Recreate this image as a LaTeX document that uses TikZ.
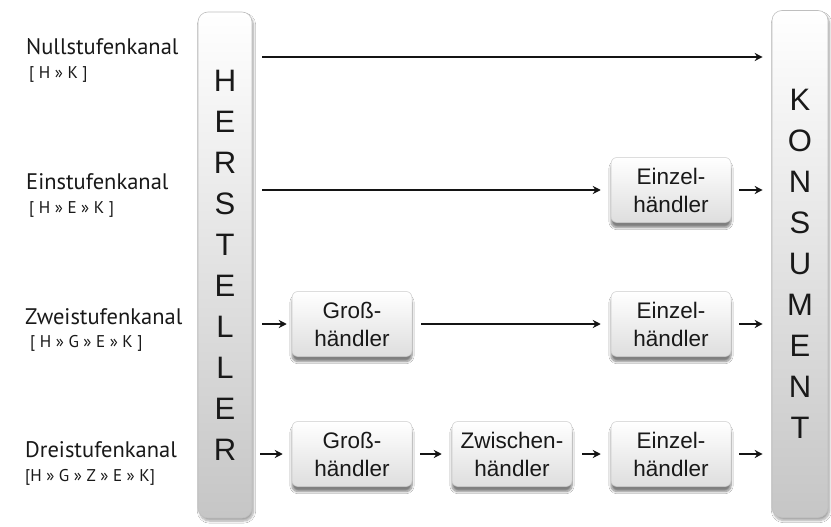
\documentclass[tikz,border=0pt]{standalone}
\usepackage{fontspec}
\setmainfont{Liberation Sans}
\newfontfamily\labfont{PT Sans}
\usetikzlibrary{arrows.meta,shadows.blur}
\begin{document}
\begin{tikzpicture}[x=1pt,y=-1pt,
  bar/.style={draw=gray!50, line width=0.6pt, rounded corners=10pt,
    top color=white, bottom color=gray!45, align=center,
    font=\fontsize{31}{41}\selectfont, text=black!90,
    blur shadow={shadow xshift=1.5pt, shadow yshift=-3pt, shadow opacity=35, shadow blur steps=8}},
  stagebox/.style={draw=gray!40, line width=0.5pt, rounded corners=6pt,
    top color=white, bottom color=gray!26, minimum width=120pt, minimum height=65pt,
    align=center, font=\fontsize{22.5}{28}\selectfont, text=black!90,
    blur shadow={shadow xshift=0pt, shadow yshift=-5pt, shadow opacity=50, shadow blur steps=8}},
  arr/.style={-{Stealth[length=8pt,width=8pt]}, line width=2.4pt, black!92},
  ttl/.style={anchor=west, inner sep=0pt, font=\labfont\fontsize{22.5}{24}\selectfont, text=black!90},
  sub/.style={anchor=west, inner sep=0pt, font=\labfont\fontsize{17}{19}\selectfont, text=black!90}
]
\useasboundingbox (0,0) rectangle (831,527);
\fill[white] (0,0) rectangle (831,527);

% bars
\node[bar, minimum width=54pt, minimum height=506pt, inner sep=0pt] (hst) at (225,265)
  {H\\E\\R\\S\\T\\E\\L\\L\\E\\R};
\node[bar, minimum width=56pt, minimum height=507pt, inner sep=0pt] (kon) at (800,264)
  {K\\O\\N\\S\\U\\M\\E\\N\\T};

% left labels
\node[ttl] (t1) at (26,47) {Nullstufenkanal};
\node[sub] (s1) at (29,75) {[ H » K ]};
\node[ttl] (t2) at (26,182) {Einstufenkanal};
\node[sub] (s2) at (29,210) {[ H » E » K ]};
\node[ttl] (t3) at (25,317) {Zweistufenkanal};
\node[sub] (s3) at (30,343) {[ H » G » E » K ]};
\node[ttl] (t4) at (25,450) {Dreistufenkanal};
\node[sub] (s4) at (25,477) {[H » G » Z » E » K]};

% stage boxes
\node[stagebox] (e2) at (671,190) {Einzel-\\händler};
\node[stagebox] (g3) at (352,324) {Groß-\\händler};
\node[stagebox] (e3) at (671,324) {Einzel-\\händler};
\node[stagebox] (g4) at (352,454) {Groß-\\händler};
\node[stagebox] (z4) at (512,454) {Zwischen-\\händler};
\node[stagebox] (e4) at (671,454) {Einzel-\\händler};

% row 1
\coordinate (r1) at (0,57);
\draw[arr, shorten <=10pt, shorten >=9pt] (hst.east |- r1) -- (kon.west |- r1);
% row 2
\draw[arr, shorten <=10pt, shorten >=10pt] (hst.east |- e2) -- (e2.west);
\draw[arr, shorten <=8pt, shorten >=9pt] (e2.east) -- (kon.west |- e2);
% row 3
\draw[arr, shorten <=10pt, shorten >=5pt] (hst.east |- g3) -- (g3.west);
\draw[arr, shorten <=9pt, shorten >=10pt] (g3.east) -- (e3.west);
\draw[arr, shorten <=8pt, shorten >=9pt] (e3.east) -- (kon.west |- e3);
% row 4
\draw[arr, shorten <=8pt, shorten >=9pt] (hst.east |- g4) -- (g4.west);
\draw[arr, shorten <=8pt, shorten >=10pt] (g4.east) -- (z4.west);
\draw[arr, shorten <=10pt, shorten >=10pt] (z4.east) -- (e4.west);
\draw[arr, shorten <=8pt, shorten >=9pt] (e4.east) -- (kon.west |- e4);
\end{tikzpicture}
\end{document}
